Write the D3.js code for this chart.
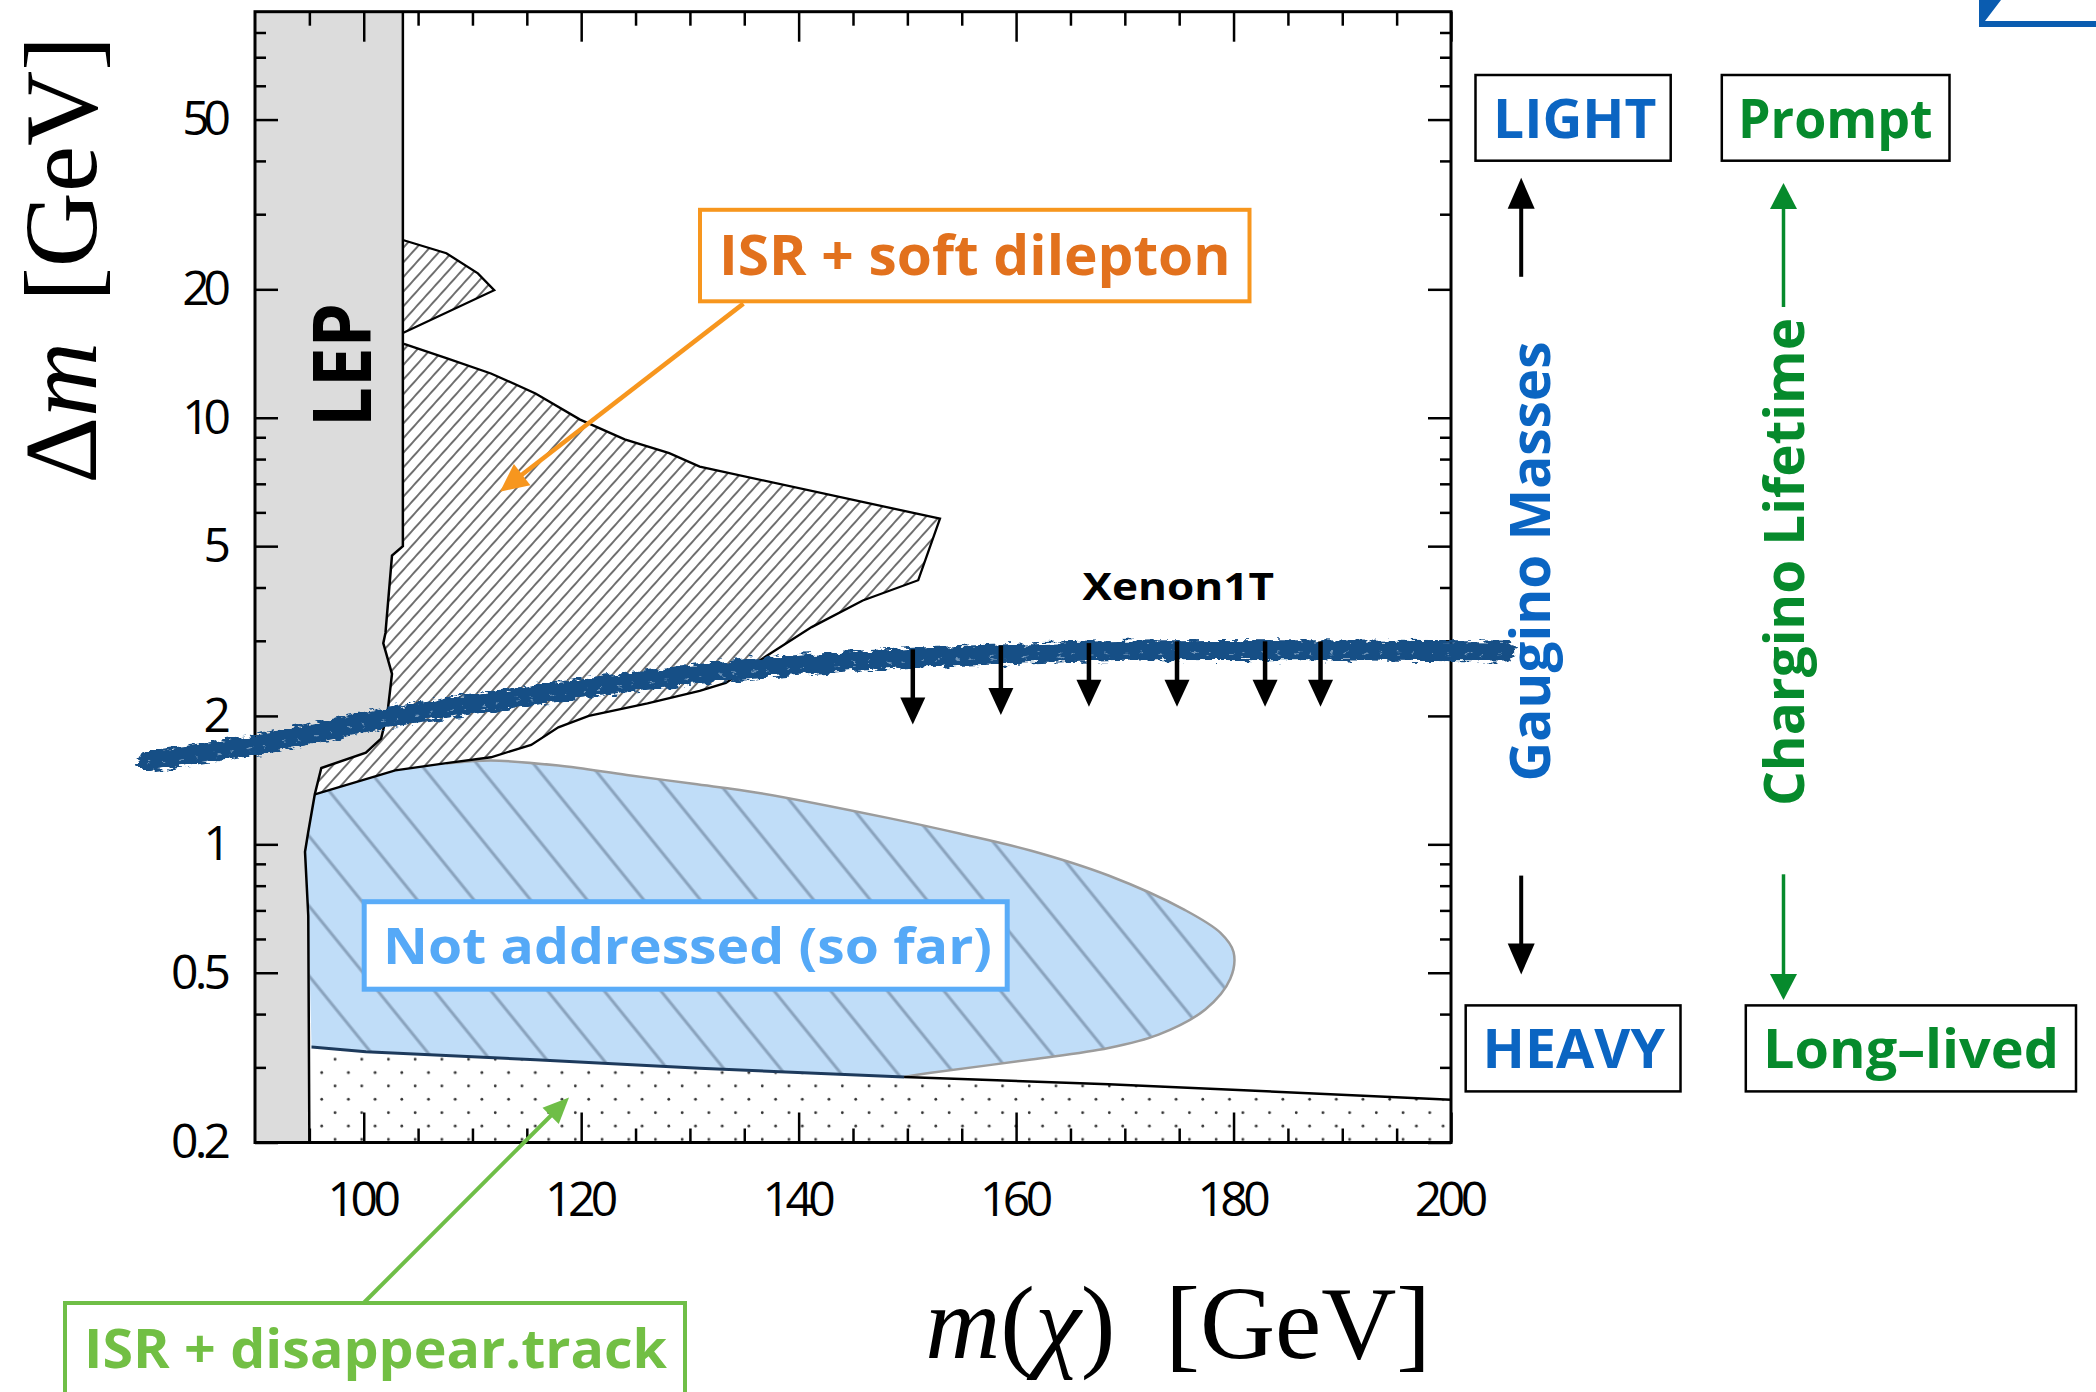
<!DOCTYPE html>
<html>
<head>
<meta charset="utf-8">
<script src="https://cdn.jsdelivr.net/npm/d3@7"></script>
<style>
  body { margin: 0; background: #fff; }
  .axis path { display: none; }
  .axis line { stroke: #000; stroke-width: 2.5px; }
  .axis text { font-family: "Open Sans", sans-serif; font-size: 48px; fill: #000; }
  .note { font-family: "Open Sans", sans-serif; font-weight: 700; }
  .title { font-family: "Liberation Serif", "Times New Roman", serif; font-size: 104px; fill: #000; }
</style>
</head>
<body>
<svg id="chart" width="2096" height="1392"></svg>
<script>
// ticks
var xMajor = [100, 120, 140, 160, 180, 200];
var xMinor = [95, 105, 110, 115, 125, 130, 135, 145, 150, 155, 165, 170, 175, 185, 190, 195];
var yMajor = [0.2, 0.5, 1, 2, 5, 10, 20, 50];
var yMinor = [0.3, 0.4, 0.6, 0.7, 0.8, 0.9, 3, 4, 6, 7, 8, 9, 30, 40, 60, 70, 80];

// LEP exclusion edge (m, dm), top to bottom
var lepM  = [103.6, 103.6, 102.6, 102.0, 101.8, 102.6, 102.2, 101.6, 100.2, 96.1, 95.5, 94.9, 94.6, 94.9, 95.0];
var lepDm = [90, 5.0, 4.75, 3.13, 2.96, 2.51, 2.05, 1.77, 1.64, 1.51, 1.31, 1.07, 0.96, 0.68, 0.2];

// ISR + soft dilepton, small lobe and main region (outer edge)
var isrSmallM  = [103.6, 107.6, 110.5, 112.0, 103.6];
var isrSmallDm = [26.1, 24.3, 21.8, 19.9, 15.8];
var isrM  = [103.7, 107.6, 111.7, 115.8, 119.9, 124.0, 128.1, 130.9, 153.0, 151.0, 145.9, 141.2, 137.0, 133.3, 130.9, 126.1, 120.7, 117.9, 115.4, 111.7, 107.6, 102.9, 95.5];
var isrDm = [14.9, 13.8, 12.7, 11.4, 9.9, 8.9, 8.26, 7.68, 5.8, 4.16, 3.73, 3.23, 2.76, 2.39, 2.29, 2.14, 2.0, 1.88, 1.71, 1.60, 1.55, 1.49, 1.31];

// not addressed region, outline from top-left round the tip to the bottom
var blueM  = [102.9, 107.6, 111.7, 117.9, 124.2, 130.3, 136.5, 148.3, 154.8, 161.4, 168.5, 175.5, 178.8, 180.0, 179.7, 177.4, 173.1, 168.5, 161.4, 152.0, 149.7];
var blueDm = [1.49, 1.547, 1.572, 1.530, 1.454, 1.386, 1.318, 1.152, 1.060, 0.966, 0.845, 0.702, 0.620, 0.559, 0.484, 0.410, 0.358, 0.333, 0.313, 0.291, 0.285];

// disappearing track region, upper edge
var dotM  = [95.2, 100.2, 115.8, 130.9, 149.7, 168.5, 200];
var dotDm = [0.335, 0.3265, 0.3125, 0.2985, 0.285, 0.274, 0.252];

// Xenon1T limit
var xenonM  = [80.1, 90.2, 102.2, 115.8, 130.9, 145.0, 159.1, 173.1, 187.2, 204.9];
var xenonDm = [1.565, 1.712, 1.98, 2.24, 2.51, 2.69, 2.79, 2.85, 2.85, 2.83];
var xenonArrowM   = [150.5, 158.6, 166.7, 174.8, 182.9, 188.0];
var xenonArrowTip = [1.91, 2.01, 2.10, 2.10, 2.10, 2.10];

var plot = {left: 255, right: 1451, top: 11.7, bottom: 1142.5};

var svg = d3.select("#chart");
var x = d3.scaleLinear().domain([90, 200]).range([plot.left, plot.right]);
var y = d3.scaleLog().domain([0.2, 89.5]).range([plot.bottom, plot.top]);

var line = d3.line().x(function(d) { return x(d[0]); }).y(function(d) { return y(d[1]); });
var smooth = d3.line().x(function(d) { return x(d[0]); }).y(function(d) { return y(d[1]); })
    .curve(d3.curveCatmullRom);

// patterns, clip, rough filter
var defs = svg.append("defs");

defs.append("clipPath").attr("id", "plotClip")
  .append("rect")
    .attr("x", plot.left).attr("y", plot.top)
    .attr("width", plot.right - plot.left).attr("height", plot.bottom - plot.top);

defs.append("pattern")
    .attr("id", "hatchIsr").attr("patternUnits", "userSpaceOnUse")
    .attr("width", 9.8).attr("height", 40).attr("patternTransform", "rotate(42)")
  .append("line")
    .attr("x1", 4.9).attr("x2", 4.9).attr("y1", 0).attr("y2", 40)
    .attr("stroke", "#333").attr("stroke-width", 1.4);

defs.append("pattern")
    .attr("id", "hatchBlue").attr("patternUnits", "userSpaceOnUse")
    .attr("width", 44).attr("height", 60).attr("patternTransform", "rotate(-39)")
  .append("line")
    .attr("x1", 22).attr("x2", 22).attr("y1", 0).attr("y2", 60)
    .attr("stroke", "#8aa3bd").attr("stroke-width", 3);

var dots = defs.append("pattern")
    .attr("id", "dots").attr("patternUnits", "userSpaceOnUse")
    .attr("x", 315).attr("y", 1052.6).attr("width", 26.7).attr("height", 26.7);
dots.append("circle").attr("cx", 20.05).attr("cy", 6.7).attr("r", 1.4).attr("fill", "#333");
dots.append("circle").attr("cx", 6.7).attr("cy", 20.05).attr("r", 1.4).attr("fill", "#333");

var rough = defs.append("filter").attr("id", "rough")
    .attr("x", "-5%").attr("y", "-60%").attr("width", "110%").attr("height", "220%");
rough.append("feTurbulence").attr("type", "fractalNoise").attr("baseFrequency", "0.09 0.3")
    .attr("numOctaves", 3).attr("seed", 7).attr("result", "noise");
rough.append("feDisplacementMap").attr("in", "SourceGraphic").attr("in2", "noise")
    .attr("scale", 11).attr("xChannelSelector", "R").attr("yChannelSelector", "G");

var g = svg.append("g").attr("clip-path", "url(#plotClip)");

var lep = d3.zip(lepM, lepDm);
var dotEdge = d3.zip(dotM, dotDm);
var blueEdge = d3.zip(blueM, blueDm);
var isr = d3.zip(isrM, isrDm);
var isrSmall = d3.zip(isrSmallM, isrSmallDm);

// LEP band
g.append("path")
    .attr("d", line([[90, 89.5]].concat(lep, [[90, 0.2]])))
    .attr("fill", "#dcdcdc");

// dotted region
g.append("path")
    .attr("d", line(dotEdge.concat([[200, 0.2], [95, 0.2]])))
    .attr("fill", "url(#dots)");

// not addressed region
var blueRest = dotEdge.slice(0, 4).reverse()
    .concat(lep.filter(function(p) { return p[1] > 0.3 && p[1] <= 1.31; }).reverse());
var blueD = smooth(blueEdge) + line(blueRest).replace("M", "L") + "Z";
g.append("path").attr("d", blueD).attr("fill", "#c0ddf8");
g.append("path").attr("d", blueD).attr("fill", "url(#hatchBlue)");
g.append("path").attr("d", smooth(blueEdge.slice(1)))
    .attr("fill", "none").attr("stroke", "#9c9c9c").attr("stroke-width", 2.5);
g.append("path").attr("d", line(dotEdge.slice(0, 5)))
    .attr("fill", "none").attr("stroke", "#1d3a5c").attr("stroke-width", 3);
g.append("path").attr("d", line(dotEdge.slice(4)))
    .attr("fill", "none").attr("stroke", "#000").attr("stroke-width", 2.5);

// ISR + soft dilepton regions
var isrFill = isr.concat(lep.filter(function(p) { return p[1] > 1.31 && p[1] < 14.9; }).reverse());
g.append("path").attr("d", line(isrFill) + "Z").attr("fill", "url(#hatchIsr)");
g.append("path").attr("d", line(isrSmall) + "Z").attr("fill", "url(#hatchIsr)");
g.append("path").attr("d", line(isr))
    .attr("fill", "none").attr("stroke", "#000").attr("stroke-width", 2.3);
g.append("path").attr("d", line(isrSmall))
    .attr("fill", "none").attr("stroke", "#000").attr("stroke-width", 2.3);

// LEP edge
g.append("path").attr("d", line(lep))
    .attr("fill", "none").attr("stroke", "#000").attr("stroke-width", 2.5);

// axes, ticks pointing inwards
function addAxis(axis, tx, ty) {
  return svg.append("g").attr("class", "axis")
      .attr("transform", "translate(" + tx + "," + ty + ")").call(axis);
}
addAxis(d3.axisBottom(x).tickValues(xMajor).tickSizeInner(-30).tickSizeOuter(0).tickPadding(39)
    .tickFormat(d3.format("d")), 0, plot.bottom);
addAxis(d3.axisBottom(x).tickValues(xMinor).tickSizeInner(-14).tickSizeOuter(0).tickFormat(""), 0, plot.bottom);
addAxis(d3.axisTop(x).tickValues(xMajor).tickSizeInner(-30).tickSizeOuter(0).tickFormat(""), 0, plot.top);
addAxis(d3.axisTop(x).tickValues(xMinor).tickSizeInner(-14).tickSizeOuter(0).tickFormat(""), 0, plot.top);
addAxis(d3.axisLeft(y).tickValues(yMajor).tickSizeInner(-23).tickSizeOuter(0).tickPadding(24)
    .tickFormat(function(d) { return String(d); }), plot.left, 0);
addAxis(d3.axisLeft(y).tickValues(yMinor).tickSizeInner(-11).tickSizeOuter(0).tickFormat(""), plot.left, 0);
addAxis(d3.axisRight(y).tickValues(yMajor).tickSizeInner(-23).tickSizeOuter(0).tickFormat(""), plot.right, 0);
addAxis(d3.axisRight(y).tickValues(yMinor).tickSizeInner(-11).tickSizeOuter(0).tickFormat(""), plot.right, 0);

// Myriad-like digits are narrower
svg.selectAll(".axis text").each(function() {
  if (this.textContent) this.setAttribute("textLength", this.getComputedTextLength() * 0.89);
});

svg.append("rect")
    .attr("x", plot.left).attr("y", plot.top)
    .attr("width", plot.right - plot.left).attr("height", plot.bottom - plot.top)
    .attr("fill", "none").attr("stroke", "#000").attr("stroke-width", 3);

// Xenon1T band
var xenon = d3.zip(xenonM, xenonDm);
svg.append("path").attr("d", smooth(xenon))
    .attr("fill", "none").attr("stroke", "#174f86").attr("stroke-width", 20)
    .attr("stroke-linecap", "round").attr("filter", "url(#rough)");
svg.append("path").attr("d", smooth(xenon))
    .attr("fill", "none").attr("stroke", "#6d93b8").attr("stroke-width", 2)
    .attr("stroke-dasharray", "4 11 2 17").attr("transform", "translate(0,3)")
    .attr("filter", "url(#rough)");

function bandY(px) {
  var pts = xenon.map(function(p) { return [x(p[0]), y(p[1])]; });
  for (var i = 1; i < pts.length; i++) {
    if (px <= pts[i][0]) {
      var t = (px - pts[i-1][0]) / (pts[i][0] - pts[i-1][0]);
      return pts[i-1][1] + t * (pts[i][1] - pts[i-1][1]);
    }
  }
  return pts[pts.length - 1][1];
}

function arrow(x1, y1, x2, y2, color, sw, hl, hw) {
  var dx = x2 - x1, dy = y2 - y1, len = Math.sqrt(dx*dx + dy*dy);
  var ux = dx / len, uy = dy / len;
  var bx = x2 - ux * hl, by = y2 - uy * hl;
  svg.append("line")
      .attr("x1", x1).attr("y1", y1).attr("x2", bx + ux * 2).attr("y2", by + uy * 2)
      .attr("stroke", color).attr("stroke-width", sw);
  svg.append("path")
      .attr("d", "M" + x2 + "," + y2 +
                 "L" + (bx - uy * hw / 2) + "," + (by + ux * hw / 2) +
                 "L" + (bx + uy * hw / 2) + "," + (by - ux * hw / 2) + "Z")
      .attr("fill", color);
}

xenonArrowM.forEach(function(m, i) {
  var px = x(m);
  arrow(px, bandY(px) - 9, px, y(xenonArrowTip[i]), "#000", 4.5, 27, 25);
});

// annotation boxes and labels
var boxes = [
  {x: 700,    y: 209.8,  w: 549.5, h: 91.5, stroke: "#f7961e", sw: 4},
  {x: 364.2,  y: 901.7,  w: 643,   h: 87.5, stroke: "#5aacf8", sw: 5},
  {x: 65,     y: 1303,   w: 620,   h: 120,  stroke: "#6fbe47", sw: 4},
  {x: 1475.5, y: 75,     w: 195.2, h: 85.7, stroke: "#000",    sw: 2.5},
  {x: 1721.8, y: 75,     w: 227.7, h: 85.7, stroke: "#000",    sw: 2.5},
  {x: 1465.7, y: 1005.4, w: 214.8, h: 86,   stroke: "#000",    sw: 2.5},
  {x: 1745.8, y: 1005.4, w: 330.2, h: 86,   stroke: "#000",    sw: 2.5}
];
boxes.forEach(function(b) {
  svg.append("rect").attr("x", b.x).attr("y", b.y).attr("width", b.w).attr("height", b.h)
      .attr("fill", "#fff").attr("stroke", b.stroke).attr("stroke-width", b.sw);
});

var notes = [
  {text: "ISR + soft dilepton",    x: 719,    y: 274.6,  size: 56, w: 511.6, color: "#e2711d"},
  {text: "Not addressed (so far)", x: 383,    y: 963.6,  size: 51, w: 609,   color: "#55a9f7"},
  {text: "ISR + disappear.track",  x: 84,     y: 1368,   size: 53, w: 583,   color: "#72bf44"},
  {text: "Xenon1T",                x: 1082.6, y: 600.4,  size: 38, w: 191.4, color: "#000"},
  {text: "LIGHT",                  x: 1493,   y: 137.5,  size: 54, w: 163.5, color: "#0b65c2"},
  {text: "Prompt",                 x: 1738,   y: 137.5,  size: 54, w: 194.6, color: "#068a2c"},
  {text: "HEAVY",                  x: 1482.6, y: 1067.6, size: 53, w: 182.4, color: "#0b65c2"},
  {text: "Long\u2013lived",        x: 1763,   y: 1067.6, size: 53, w: 296,   color: "#068a2c"},
  {text: "LEP",                    x: 370.5,  y: 365,    size: 81, w: 124,   color: "#000",    rot: true},
  {text: "Gaugino Masses",         x: 1550,   y: 561.5,  size: 55, w: 440,   color: "#0b65c2", rot: true},
  {text: "Chargino Lifetime",      x: 1804,   y: 562,    size: 56, w: 488,   color: "#068a2c", rot: true}
];
notes.forEach(function(n) {
  var t = svg.append("text").attr("class", "note")
      .attr("font-size", n.size).attr("fill", n.color)
      .attr("textLength", n.w).attr("lengthAdjust", "spacingAndGlyphs")
      .text(n.text);
  if (n.rot) {
    t.attr("text-anchor", "middle")
     .attr("transform", "translate(" + n.x + "," + n.y + ") rotate(-90)");
  } else {
    t.attr("x", n.x).attr("y", n.y);
  }
});

// pointer arrows
arrow(743.4, 303.6, 500, 491.7, "#f7961e", 4.5, 28, 27);
arrow(363.6, 1303, 569, 1097.5, "#6fbe47", 4, 26, 23);
arrow(1521.2, 276.8, 1521.2, 177.7, "#000", 4, 31, 27);
arrow(1521.2, 875.6, 1521.2, 974.5, "#000", 4, 31, 27);
arrow(1783.5, 307, 1783.5, 183, "#068a2c", 3.5, 26, 27);
arrow(1783.5, 874.3, 1783.5, 1000, "#068a2c", 3.5, 26, 27);

// clipped corner of a neighbouring frame
svg.append("path")
    .attr("d", "M1979,0L2001,0L1985,21L2096,21L2096,27L1979,27Z")
    .attr("fill", "#0a5cb0");

// axis titles
var yt = svg.append("text").attr("class", "title").attr("text-anchor", "middle")
    .attr("transform", "translate(96,260) rotate(-90)");
yt.append("tspan").text("\u0394");
yt.append("tspan").attr("font-style", "italic").text("m");
yt.append("tspan").attr("dx", 40).text("[GeV]");

var xt = svg.append("text").attr("class", "title").attr("text-anchor", "end")
    .attr("x", 1431).attr("y", 1358);
xt.append("tspan").attr("font-style", "italic").text("m");
xt.append("tspan").text("(");
xt.append("tspan").attr("font-style", "italic").text("\u03c7");
xt.append("tspan").text(")");
xt.append("tspan").attr("dx", 50).text("[GeV]");
</script>
</body>
</html>
